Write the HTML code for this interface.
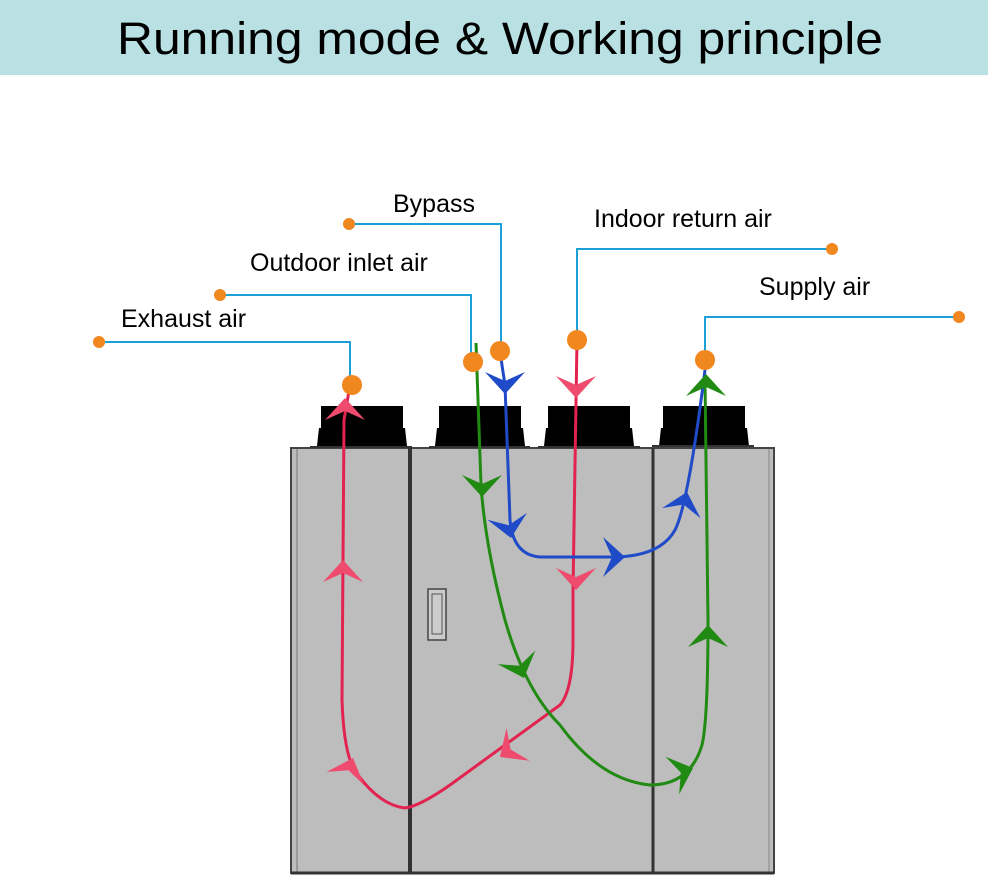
<!DOCTYPE html>
<html><head><meta charset="utf-8"><style>
html,body{margin:0;padding:0;background:#fff;width:1001px;height:891px;overflow:hidden}
</style></head><body>
<svg width="1001" height="891" viewBox="0 0 1001 891" xmlns="http://www.w3.org/2000/svg" font-family="Liberation Sans, sans-serif">
<defs>
<polygon id="chev" points="0,0 -20,-22 0,-13 20,-22"/>
</defs>
<rect x="0" y="0" width="988" height="75" fill="#b9e0e3"/>
<text x="500" y="54" font-size="45" text-anchor="middle" textLength="766" lengthAdjust="spacingAndGlyphs" fill="#000">Running mode &amp; Working principle</text>

<rect x="291" y="448" width="483" height="425" fill="#bdbdbd" stroke="#444" stroke-width="2"/>
<line x1="297" y1="449" x2="297" y2="872" stroke="#777" stroke-width="1"/>
<line x1="769" y1="449" x2="769" y2="872" stroke="#888" stroke-width="1"/>
<line x1="410" y1="448" x2="410" y2="873" stroke="#333" stroke-width="4"/>
<line x1="653" y1="448" x2="653" y2="873" stroke="#333" stroke-width="3"/>
<line x1="291" y1="873" x2="774" y2="873" stroke="#333" stroke-width="3"/>
<rect x="428" y="589" width="18" height="51" fill="#ccc" stroke="#444" stroke-width="1.5"/>
<rect x="432" y="594" width="10" height="40" fill="none" stroke="#555" stroke-width="1"/>

<g fill="#000">
<rect x="321" y="406" width="82" height="22"/><polygon points="319,428 405,428 407,446 317,446"/>
<rect x="439" y="406" width="82" height="22"/><polygon points="437,428 523,428 525,446 435,446"/>
<rect x="548" y="406" width="82" height="22"/><polygon points="546,428 632,428 634,446 544,446"/>
<rect x="663" y="406" width="82" height="22"/><polygon points="661,428 747,428 749,446 659,446"/>
</g>
<line x1="310" y1="447" x2="412" y2="447" stroke="#333" stroke-width="2"/>
<line x1="429" y1="447" x2="530" y2="447" stroke="#333" stroke-width="2"/>
<line x1="538" y1="447" x2="640" y2="447" stroke="#333" stroke-width="2"/>
<line x1="652" y1="446" x2="754" y2="446" stroke="#333" stroke-width="2"/>

<g stroke="#1ba1d8" stroke-width="2" fill="none">
<polyline points="99,342 350,342 350,385"/>
<polyline points="220,295 471,295 471,360"/>
<polyline points="349,224 501,224 501,350"/>
<polyline points="832,249 577,249 577,340"/>
<polyline points="959,317 705,317 705,360"/>
</g>

<g fill="none" stroke-width="3">
<path d="M350,385 L344,420 L342,700 Q344,760 358,775 Q380,805 405,808 Q420,806 450,785 L560,705 Q573,690 573,640 L573,590 L577,340" stroke="#e2224f"/>
<path d="M476,343 L481,485 Q485,545 505,620 Q525,690 560,725 Q600,780 650,785 Q690,785 702,745 Q708,720 708,620 L705,380" stroke="#218a12"/>
<path d="M500,352 L505,385 L510,520 Q513,555 540,557 L612,557 Q660,557 675,530 Q688,505 705,370" stroke="#1f4bc8"/>
</g>

<g fill="#ee4b6e">
<use href="#chev" transform="translate(345,398) rotate(180)"/>
<use href="#chev" transform="translate(343,560) rotate(180)"/>
<use href="#chev" transform="translate(353,758) rotate(200)"/>
<use href="#chev" transform="translate(500,757) rotate(55)"/>
<use href="#chev" transform="translate(576,398)"/>
<use href="#chev" transform="translate(576,590)"/>
</g>
<g fill="#218a12">
<use href="#chev" transform="translate(482,497)"/>
<use href="#chev" transform="translate(524,678) rotate(-20)"/>
<use href="#chev" transform="translate(693,768) rotate(-110)"/>
<use href="#chev" transform="translate(708,625) rotate(180)"/>
<use href="#chev" transform="translate(706,374) rotate(180)"/>
</g>
<g fill="#1f4bc8">
<use href="#chev" transform="translate(505,394)"/>
<use href="#chev" transform="translate(511,538) rotate(-10)"/>
<use href="#chev" transform="translate(625,557) rotate(-90)"/>
<use href="#chev" transform="translate(687,492) rotate(195)"/>
</g>

<g fill="#f0871f">
<circle cx="99" cy="342" r="6"/>
<circle cx="220" cy="295" r="6"/>
<circle cx="349" cy="224" r="6"/>
<circle cx="832" cy="249" r="6"/>
<circle cx="959" cy="317" r="6"/>
<circle cx="352" cy="385" r="10"/>
<circle cx="473" cy="362" r="10"/>
<circle cx="500" cy="351" r="10"/>
<circle cx="577" cy="340" r="10"/>
<circle cx="705" cy="360" r="10"/>
</g>

<g font-size="25" fill="#000">
<text x="121" y="327">Exhaust air</text>
<text x="250" y="271">Outdoor inlet air</text>
<text x="393" y="212">Bypass</text>
<text x="594" y="227">Indoor return air</text>
<text x="759" y="295">Supply air</text>
</g>
</svg>
</body></html>
